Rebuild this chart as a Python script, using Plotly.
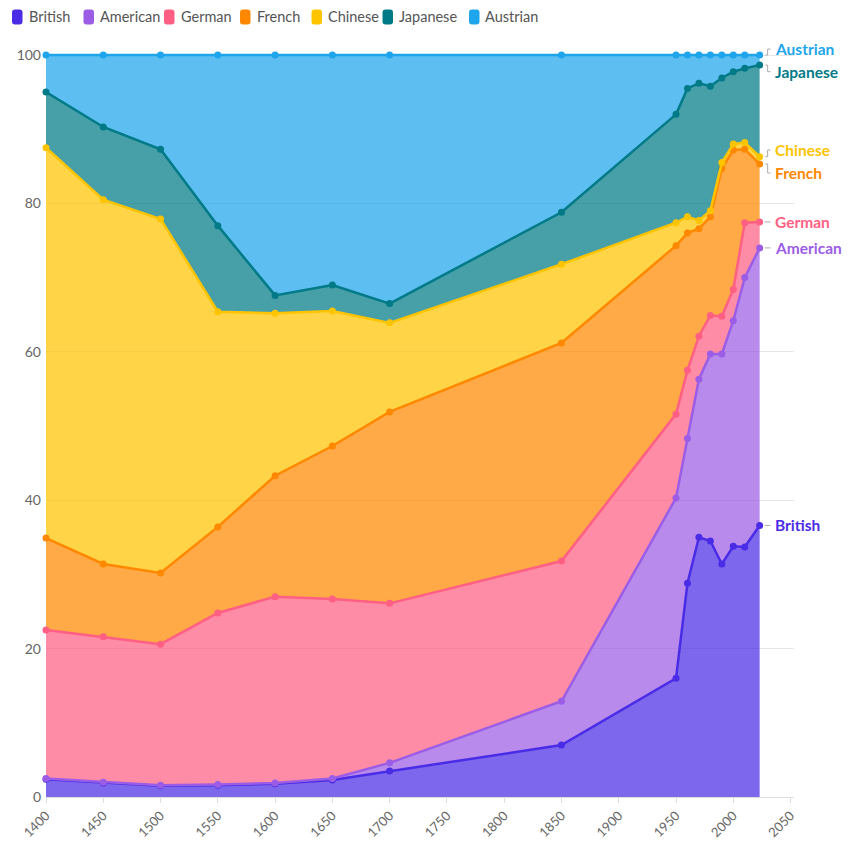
import plotly.graph_objects as go

years = [1400, 1450, 1500, 1550, 1600, 1650, 1700, 1850, 1950, 1960, 1970, 1980, 1990, 2000, 2010, 2023]

british = [2.4, 1.9, 1.5, 1.6, 1.8, 2.3, 3.5, 7.0, 16.0, 28.8, 35.0, 34.5, 31.4, 33.8, 33.7, 36.6]
american = [0.1, 0.1, 0.1, 0.1, 0.1, 0.2, 1.1, 5.9, 24.3, 19.5, 21.3, 25.2, 28.3, 30.4, 36.3, 37.4]
german = [20.0, 19.6, 19.0, 23.1, 25.1, 24.2, 21.5, 18.9, 11.3, 9.2, 5.8, 5.2, 5.1, 4.2, 7.4, 3.5]
french = [12.4, 9.8, 9.6, 11.6, 16.3, 20.6, 25.8, 29.4, 22.7, 18.5, 14.5, 13.3, 19.9, 18.8, 9.9, 7.8]
chinese = [52.6, 49.1, 47.7, 29.0, 21.9, 18.2, 12.0, 10.6, 3.1, 2.2, 1.1, 0.8, 0.8, 0.8, 0.9, 1.0]
japanese = [7.5, 9.8, 9.4, 11.6, 2.4, 3.5, 2.6, 7.0, 14.6, 17.3, 18.5, 16.8, 11.4, 9.75, 10.0, 12.35]
austrian = [5.0, 9.7, 12.7, 23.0, 32.4, 31.0, 33.5, 21.2, 8.0, 4.5, 3.8, 4.2, 3.1, 2.25, 1.8, 1.35]

names = ["British", "American", "German", "French", "Chinese", "Japanese", "Austrian"]
series = [british, american, german, french, chinese, japanese, austrian]
colors = ["#4A2CE6", "#9B5DE5", "#FF5F83", "#FF8800", "#FFC400", "#007A87", "#1EA5EC"]
# label vertical offsets (in y units) to avoid overlap
label_offsets = {"Austrian": 0.8, "Japanese": -0.9, "Chinese": 0.9, "French": -1.2,
                 "German": 0.0, "American": 0.0, "British": 0.0}

W, H = 850, 851
ML, MR, MT, MB = 46, 56, 51, 54
PW, PH = W - ML - MR, H - MT - MB
YMAX = PH / 7.42  # keeps 0..100 at the same pixel scale, small headroom above 100

# custom legend layout (pixel x of each swatch)
legend_px = [12, 83.5, 164, 240, 311.5, 382.5, 469]
legend_py = 17


def px2paper_x(px):
    return (px - ML) / PW


def py2paper_y(py):
    return (H - MB - py) / PH


def rgba(hexc, a):
    h = hexc.lstrip("#")
    r, g, b = int(h[0:2], 16), int(h[2:4], 16), int(h[4:6], 16)
    return f"rgba({r},{g},{b},{a})"


def rounded_rect(x0, y0, x1, y1, r):
    def P(x, y):
        return f"{px2paper_x(x):.5f},{py2paper_y(y):.5f}"
    return (f"M {P(x0 + r, y0)} L {P(x1 - r, y0)} Q {P(x1, y0)} {P(x1, y0 + r)} "
            f"L {P(x1, y1 - r)} Q {P(x1, y1)} {P(x1 - r, y1)} L {P(x0 + r, y1)} "
            f"Q {P(x0, y1)} {P(x0, y1 - r)} L {P(x0, y0 + r)} Q {P(x0, y0)} {P(x0 + r, y0)} Z")


fig = go.Figure()
cum = [0.0] * len(years)
annotations = []
shapes = []
for i, (name, vals, col) in enumerate(zip(names, series, colors)):
    cum = [c + v for c, v in zip(cum, vals)]
    fig.add_trace(go.Scatter(
        x=years, y=vals, name=name, stackgroup="one", mode="lines+markers",
        line=dict(color=col, width=2.5), marker=dict(color=col, size=7),
        fillcolor=rgba(col, 0.72), cliponaxis=False, showlegend=False,
    ))
    last = cum[-1]
    ly = last + label_offsets[name]
    annotations.append(dict(
        x=2035, y=ly / YMAX, xref="x", yref="paper", text=f"<b>{name}</b>", showarrow=False,
        xanchor="left", yanchor="middle", font=dict(color=col, size=15.5, family="Lato"),
    ))
    if abs(ly - last) < 0.05:
        shapes.append(dict(type="line", x0=2027.5, x1=2032.5, y0=last / YMAX, y1=last / YMAX,
                           xref="x", yref="paper", line=dict(color="#aaaaaa", width=1)))
    else:
        shapes.append(dict(type="path",
                           path=(f"M 2028,{last / YMAX} L 2030,{last / YMAX} "
                                 f"L 2030,{ly / YMAX} L 2032.5,{ly / YMAX}"),
                           xref="x", yref="paper", line=dict(color="#aaaaaa", width=1)))
    # legend entry
    sx = legend_px[i]
    shapes.append(dict(type="path", path=rounded_rect(sx, legend_py - 7.5, sx + 10.5, legend_py + 7.5, 3),
                       xref="paper", yref="paper", fillcolor=col, line=dict(width=0)))
    annotations.append(dict(
        x=px2paper_x(sx + 14.5), y=py2paper_y(legend_py), xref="paper", yref="paper",
        text=name, showarrow=False, xanchor="left", yanchor="middle",
        font=dict(color="#555555", size=14.5, family="Lato"),
    ))

fig.update_layout(
    width=W, height=H,
    margin=dict(l=ML, r=MR, t=MT, b=MB),
    paper_bgcolor="white", plot_bgcolor="white",
    font=dict(family="Lato", color="#555555"),
    showlegend=False,
    xaxis=dict(range=[1400, 2053], tickmode="array", tickvals=list(range(1400, 2051, 50)),
               tickangle=-45, tickfont=dict(size=13, color="#666666"),
               showgrid=False, showline=True, linecolor="#dddddd", linewidth=1,
               ticks="outside", ticklen=5, tickcolor="#dddddd", zeroline=False,
               automargin=False),
    yaxis=dict(range=[0, YMAX], tickvals=[0, 20, 40, 60, 80, 100],
               tickfont=dict(size=14, color="#666666"), showgrid=True,
               gridcolor="#e6e6e6", zeroline=False, showline=False, ticks="",
               ticklabelstandoff=4, automargin=False),
    annotations=annotations, shapes=shapes,
    hovermode=False,
)

fig.write_html("out.html")
